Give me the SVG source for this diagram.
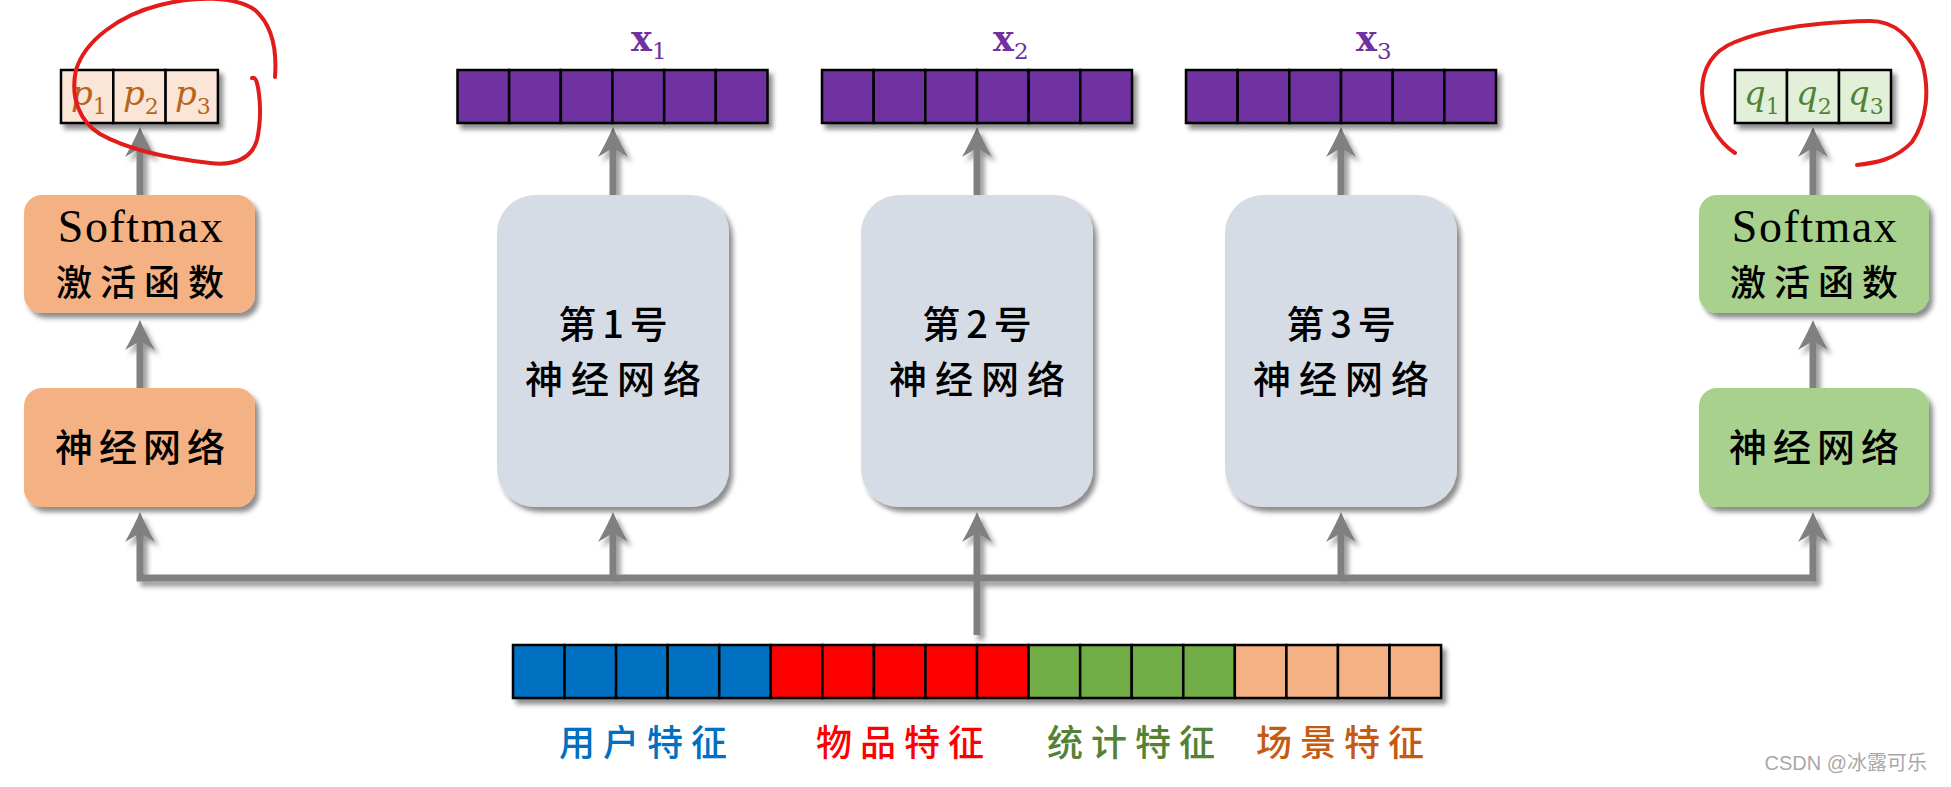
<svg xmlns="http://www.w3.org/2000/svg" width="1951" height="787" viewBox="0 0 1951 787">
<defs>
<filter id="sh" x="-20%" y="-20%" width="140%" height="160%">
<feDropShadow dx="4" dy="5" stdDeviation="2.5" flood-color="#000" flood-opacity="0.45"/>
</filter>
<filter id="shl" x="-50%" y="-10%" width="200%" height="130%">
<feDropShadow dx="4" dy="5" stdDeviation="2.5" flood-color="#000" flood-opacity="0.4"/>
</filter>
<marker id="ah" markerUnits="userSpaceOnUse" markerWidth="34" markerHeight="32" viewBox="-32 -16 34 32" refX="-20" refY="0" orient="auto" overflow="visible">
<path d="M0,0 Q-14,-6 -30,-15 L-21,0 L-30,15 Q-14,6 0,0 Z" fill="#808080"/>
</marker>
</defs>
<style>
.cell{stroke:#000;stroke-width:2.5}
.box{filter:url(#sh)}
.cn{font-family:"Noto Sans CJK SC",sans-serif;fill:#000;font-weight:500}
.sm{font-family:"Liberation Serif",serif;font-size:46px;fill:#000;letter-spacing:1.5px}
.conn{fill:none;stroke:#808080;stroke-width:7}
.xl{font-family:"DejaVu Serif",serif;font-weight:bold;fill:#7030A0}
.pl{font-family:"DejaVu Serif",serif;font-style:italic}
.red{fill:none;stroke:#E21B1B;stroke-width:4;stroke-linecap:round;stroke-linejoin:round}
</style>
<rect width="1951" height="787" fill="#fff"/>

<g id="connectors" filter="url(#shl)">
<path class="conn" d="M140,532 L140,578 L1813,578 L1813,532"/>
<line class="conn" x1="613" y1="578" x2="613" y2="532" marker-end="url(#ah)"/>
<line class="conn" x1="1341" y1="578" x2="1341" y2="532" marker-end="url(#ah)"/>
<line class="conn" x1="140" y1="540" x2="140" y2="532" marker-end="url(#ah)"/>
<line class="conn" x1="1813" y1="540" x2="1813" y2="532" marker-end="url(#ah)"/>
<line class="conn" x1="977" y1="635" x2="977" y2="532" marker-end="url(#ah)"/>
<line class="conn" x1="140" y1="388" x2="140" y2="340" marker-end="url(#ah)"/>
<line class="conn" x1="1813" y1="388" x2="1813" y2="340" marker-end="url(#ah)"/>
<line class="conn" x1="140" y1="195" x2="140" y2="147" marker-end="url(#ah)"/>
<line class="conn" x1="1813" y1="195" x2="1813" y2="147" marker-end="url(#ah)"/>
<line class="conn" x1="613" y1="195" x2="613" y2="147" marker-end="url(#ah)"/>
<line class="conn" x1="977" y1="195" x2="977" y2="147" marker-end="url(#ah)"/>
<line class="conn" x1="1341" y1="195" x2="1341" y2="147" marker-end="url(#ah)"/>
</g>

<g id="p-output">
<g class="box">
<rect class="cell" x="61" y="70" width="52.3" height="53" fill="#FBE5D6"/>
<rect class="cell" x="113.3" y="70" width="52.3" height="53" fill="#FBE5D6"/>
<rect class="cell" x="165.6" y="70" width="52.3" height="53" fill="#FBE5D6"/>
</g>
<g class="pl" fill="#B5651D">
<text x="71" y="105" font-size="34">p<tspan font-size="22" font-style="normal" dy="9">1</tspan></text>
<text x="123" y="105" font-size="34">p<tspan font-size="22" font-style="normal" dy="9">2</tspan></text>
<text x="175" y="105" font-size="34">p<tspan font-size="22" font-style="normal" dy="9">3</tspan></text>
</g>
</g>

<g id="q-output">
<g class="box">
<rect class="cell" x="1735" y="70" width="52" height="53" fill="#E2F0D9"/>
<rect class="cell" x="1787" y="70" width="52" height="53" fill="#E2F0D9"/>
<rect class="cell" x="1839" y="70" width="52" height="53" fill="#E2F0D9"/>
</g>
<g class="pl" fill="#548235">
<text x="1744" y="105" font-size="34">q<tspan font-size="22" font-style="normal" dy="9">1</tspan></text>
<text x="1796" y="105" font-size="34">q<tspan font-size="22" font-style="normal" dy="9">2</tspan></text>
<text x="1848" y="105" font-size="34">q<tspan font-size="22" font-style="normal" dy="9">3</tspan></text>
</g>
</g>

<g id="softmax-left">
<rect class="box" x="24" y="195" width="231" height="118" rx="18" fill="#F4B183"/>
<text class="sm" x="141" y="242" text-anchor="middle">Softmax</text>
<text class="cn" x="144" y="296" font-size="36" letter-spacing="8" text-anchor="middle">激活函数</text>
</g>
<g id="nn-left">
<rect class="box" x="24" y="388" width="231" height="119" rx="18" fill="#F4B183"/>
<text class="cn" x="143" y="461" font-size="38" letter-spacing="6" text-anchor="middle">神经网络</text>
</g>

<g id="softmax-right">
<rect class="box" x="1699" y="195" width="230" height="118" rx="18" fill="#A9D18E"/>
<text class="sm" x="1815" y="242" text-anchor="middle">Softmax</text>
<text class="cn" x="1818" y="296" font-size="36" letter-spacing="8" text-anchor="middle">激活函数</text>
</g>
<g id="nn-right">
<rect class="box" x="1699" y="388" width="230" height="119" rx="18" fill="#A9D18E"/>
<text class="cn" x="1817" y="461" font-size="38" letter-spacing="6" text-anchor="middle">神经网络</text>
</g>

<g id="nn1">
<rect class="box" x="497" y="195" width="232" height="312" rx="38" fill="#D6DCE5"/>
<text class="cn" x="616" y="338" font-size="38" letter-spacing="6" text-anchor="middle">第1号</text>
<text class="cn" x="617" y="393" font-size="38" letter-spacing="8" text-anchor="middle">神经网络</text>
</g>
<g id="nn2">
<rect class="box" x="861" y="195" width="232" height="312" rx="38" fill="#D6DCE5"/>
<text class="cn" x="980" y="338" font-size="38" letter-spacing="6" text-anchor="middle">第2号</text>
<text class="cn" x="981" y="393" font-size="38" letter-spacing="8" text-anchor="middle">神经网络</text>
</g>
<g id="nn3">
<rect class="box" x="1225" y="195" width="232" height="312" rx="38" fill="#D6DCE5"/>
<text class="cn" x="1344" y="338" font-size="38" letter-spacing="6" text-anchor="middle">第3号</text>
<text class="cn" x="1345" y="393" font-size="38" letter-spacing="8" text-anchor="middle">神经网络</text>
</g>

<g id="x1">
<g class="box" fill="#7030A0">
<rect class="cell" x="457.5" y="70" width="51.67" height="53"/>
<rect class="cell" x="509.17" y="70" width="51.67" height="53"/>
<rect class="cell" x="560.83" y="70" width="51.67" height="53"/>
<rect class="cell" x="612.5" y="70" width="51.67" height="53"/>
<rect class="cell" x="664.17" y="70" width="51.67" height="53"/>
<rect class="cell" x="715.83" y="70" width="51.67" height="53"/>
</g>
<text class="xl" x="631" y="51" font-size="35">x<tspan font-size="23" font-weight="normal" dy="8">1</tspan></text>
</g>
<g id="x2">
<g class="box" fill="#7030A0">
<rect class="cell" x="822" y="70" width="51.67" height="53"/>
<rect class="cell" x="873.67" y="70" width="51.67" height="53"/>
<rect class="cell" x="925.33" y="70" width="51.67" height="53"/>
<rect class="cell" x="977" y="70" width="51.67" height="53"/>
<rect class="cell" x="1028.67" y="70" width="51.67" height="53"/>
<rect class="cell" x="1080.33" y="70" width="51.67" height="53"/>
</g>
<text class="xl" x="993" y="51" font-size="35">x<tspan font-size="23" font-weight="normal" dy="8">2</tspan></text>
</g>
<g id="x3">
<g class="box" fill="#7030A0">
<rect class="cell" x="1186" y="70" width="51.67" height="53"/>
<rect class="cell" x="1237.67" y="70" width="51.67" height="53"/>
<rect class="cell" x="1289.33" y="70" width="51.67" height="53"/>
<rect class="cell" x="1341" y="70" width="51.67" height="53"/>
<rect class="cell" x="1392.67" y="70" width="51.67" height="53"/>
<rect class="cell" x="1444.33" y="70" width="51.67" height="53"/>
</g>
<text class="xl" x="1356" y="51" font-size="35">x<tspan font-size="23" font-weight="normal" dy="8">3</tspan></text>
</g>

<g id="features">
<g class="box">
<rect class="cell" x="513" y="645" width="51.56" height="53" fill="#0070C0"/>
<rect class="cell" x="564.56" y="645" width="51.56" height="53" fill="#0070C0"/>
<rect class="cell" x="616.12" y="645" width="51.56" height="53" fill="#0070C0"/>
<rect class="cell" x="667.68" y="645" width="51.56" height="53" fill="#0070C0"/>
<rect class="cell" x="719.24" y="645" width="51.56" height="53" fill="#0070C0"/>
<rect class="cell" x="770.8" y="645" width="51.56" height="53" fill="#FF0000"/>
<rect class="cell" x="822.36" y="645" width="51.56" height="53" fill="#FF0000"/>
<rect class="cell" x="873.92" y="645" width="51.56" height="53" fill="#FF0000"/>
<rect class="cell" x="925.48" y="645" width="51.56" height="53" fill="#FF0000"/>
<rect class="cell" x="977.04" y="645" width="51.56" height="53" fill="#FF0000"/>
<rect class="cell" x="1028.6" y="645" width="51.56" height="53" fill="#70AD47"/>
<rect class="cell" x="1080.16" y="645" width="51.56" height="53" fill="#70AD47"/>
<rect class="cell" x="1131.72" y="645" width="51.56" height="53" fill="#70AD47"/>
<rect class="cell" x="1183.28" y="645" width="51.56" height="53" fill="#70AD47"/>
<rect class="cell" x="1234.84" y="645" width="51.56" height="53" fill="#F4B183"/>
<rect class="cell" x="1286.4" y="645" width="51.56" height="53" fill="#F4B183"/>
<rect class="cell" x="1337.96" y="645" width="51.56" height="53" fill="#F4B183"/>
<rect class="cell" x="1389.52" y="645" width="51.56" height="53" fill="#F4B183"/>
</g>
<g font-family="Noto Sans CJK SC, sans-serif" font-size="36" font-weight="500" letter-spacing="8" text-anchor="middle">
<text x="647" y="756" fill="#0070C0">用户特征</text>
<text x="904" y="756" fill="#FF0000">物品特征</text>
<text x="1135" y="756" fill="#548235">统计特征</text>
<text x="1344" y="756" fill="#C55A11">场景特征</text>
</g>
</g>

<g id="annotations">
<path class="red" d="M275,77 C277,50 272,25 255,10 C235,-4 195,-4 160,5 C120,15 85,40 76,70 C70,98 80,122 100,134 C125,148 165,158 210,163 C235,166 252,158 257,140 C262,118 260,95 257,83 C256,79 254,77 252,78"/>
<path class="red" d="M1735,153 C1718,142 1703,118 1702,92 C1702,65 1715,50 1735,42 C1770,28 1820,22 1870,21 C1895,21 1912,38 1922,62 C1930,90 1927,120 1912,142 C1895,160 1875,163 1857,165"/>
</g>

<text x="1927" y="770" font-family="Liberation Sans, Noto Sans CJK SC, sans-serif" font-size="20" fill="#A8A8A8" text-anchor="end">CSDN @冰露可乐</text>
</svg>
